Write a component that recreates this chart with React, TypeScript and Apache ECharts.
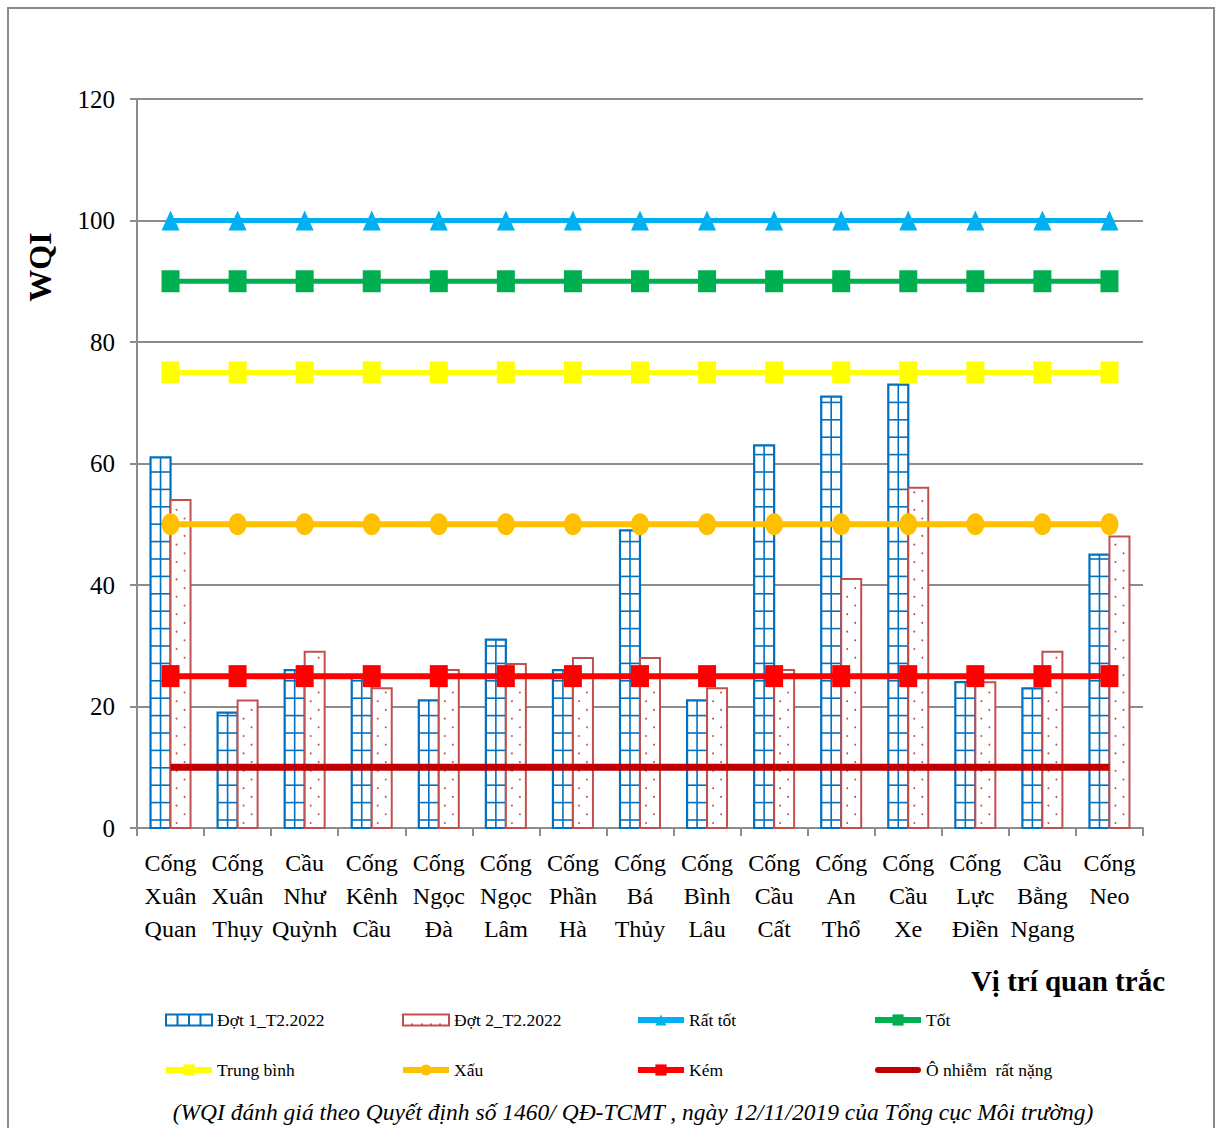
import React, { useEffect, useRef } from 'react';
import * as echarts from 'echarts';

const FONT = "'Liberation Serif', 'Times New Roman', serif";

const categories = [
  'Cống\nXuân\nQuan', 'Cống\nXuân\nThụy', 'Cầu\nNhư\nQuỳnh', 'Cống\nKênh\nCầu',
  'Cống\nNgọc\nĐà', 'Cống\nNgọc\nLâm', 'Cống\nPhần\nHà', 'Cống\nBá\nThủy',
  'Cống\nBình\nLâu', 'Cống\nCầu\nCất', 'Cống\nAn\nThổ', 'Cống\nCầu\nXe',
  'Cống\nLực\nĐiền', 'Cầu\nBằng\nNgang', 'Cống\nNeo',
];

// WQI by monitoring point, two sampling rounds of February 2022
const dot1 = [61, 19, 26, 25, 21, 31, 26, 49, 21, 63, 71, 73, 24, 23, 45];
const dot2 = [54, 21, 29, 23, 26, 27, 28, 28, 23, 26, 41, 56, 24, 29, 48];

// WQI class thresholds (QĐ 1460/QĐ-TCMT)
const ratTot = [100, 100, 100, 100, 100, 100, 100, 100, 100, 100, 100, 100, 100, 100, 100];
const tot = [90, 90, 90, 90, 90, 90, 90, 90, 90, 90, 90, 90, 90, 90, 90];
const trungBinh = [75, 75, 75, 75, 75, 75, 75, 75, 75, 75, 75, 75, 75, 75, 75];
const xau = [50, 50, 50, 50, 50, 50, 50, 50, 50, 50, 50, 50, 50, 50, 50];
const kem = [25, 25, 25, 25, 25, 25, 25, 25, 25, 25, 25, 25, 25, 25, 25];
const oNhiem = [10, 10, 10, 10, 10, 10, 10, 10, 10, 10, 10, 10, 10, 10, 10];

const yTicks = { min: 0, max: 120, interval: 20 };

const BLUE = '#0070C0';
const BROWN = '#C0504D';
const GRID_GRAY = '#8c8c8c';
const BAR_W = 20;

// Blue bar with a grid hatch (one middle column rule, horizontal rules)
function renderGridBar(params: any, api: any) {
  const top = api.coord([api.value(0), api.value(1)]);
  const base = api.coord([api.value(0), 0]);
  const x = top[0] - BAR_W;
  const h = base[1] - top[1];
  const children: any[] = [];
  children.push({
    type: 'rect',
    shape: { x, y: top[1], width: BAR_W, height: h },
    style: { fill: '#fff', stroke: 'none' },
  });
  children.push({
    type: 'line',
    shape: { x1: x + BAR_W / 2, y1: top[1], x2: x + BAR_W / 2, y2: base[1] },
    style: { stroke: BLUE, lineWidth: 1.6 },
  });
  for (let y = base[1] - 8; y > top[1] + 3; y -= 17.4) {
    children.push({
      type: 'line',
      shape: { x1: x, y1: y, x2: x + BAR_W, y2: y },
      style: { stroke: BLUE, lineWidth: 1.6 },
    });
  }
  children.push({
    type: 'rect',
    shape: { x, y: top[1], width: BAR_W, height: h },
    style: { fill: 'none', stroke: BLUE, lineWidth: 2.2 },
  });
  return { type: 'group', children };
}

// Brown outlined bar with a light dot stipple
function renderDotBar(params: any, api: any) {
  const top = api.coord([api.value(0), api.value(1)]);
  const base = api.coord([api.value(0), 0]);
  const x = top[0];
  const h = base[1] - top[1];
  const children: any[] = [];
  children.push({
    type: 'rect',
    shape: { x, y: top[1], width: BAR_W, height: h },
    style: { fill: '#fff', stroke: 'none' },
  });
  let k = 0;
  for (let y = base[1] - 5; y > top[1] + 4; y -= 8.7) {
    const cx = x + (k % 2 === 0 ? 6 : 14);
    children.push({
      type: 'circle',
      shape: { cx, cy: y, r: 0.95 },
      style: { fill: BROWN },
    });
    k++;
  }
  children.push({
    type: 'rect',
    shape: { x, y: top[1], width: BAR_W, height: h },
    style: { fill: 'none', stroke: BROWN, lineWidth: 2 },
  });
  return { type: 'group', children };
}

function levelSeries(name: string, data: number[], color: string, symbol: string, width: number) {
  return {
    name,
    type: 'line',
    data,
    z: 5,
    symbol,
    symbolSize: symbol === 'none' ? 0 : (symbol === 'triangle' ? [18, 20] : [18, 22]),
    showAllSymbol: true,
    lineStyle: { color, width },
    itemStyle: { color },
  };
}

function makeLegend(left: number, names: any[]) {
  return {
    orient: 'vertical',
    left,
    top: 1011,
    padding: 0,
    itemWidth: 46,
    itemHeight: 14,
    itemGap: 32,
    data: names,
    lineStyle: { width: 6 },
    textStyle: { fontFamily: FONT, fontSize: 17.5, color: '#000', lineHeight: 14 },
    selectedMode: false,
  };
}

const legendBar1 = {
  name: 'Đợt 1_T2.2022',
  icon: 'path://M0,0H46V11H0ZM11.5,0V11M23,0V11M34.5,0V11',
  itemStyle: { color: '#fff', borderColor: BLUE, borderWidth: 2 },
};
const legendBar2 = {
  name: 'Đợt 2_T2.2022',
  icon: 'path://M0,0H46V11H0ZM9,9V11M19,9V11M28,9V11M37,9V11',
  itemStyle: { color: '#fff', borderColor: BROWN, borderWidth: 2 },
};
const legendONhiem = {
  name: 'Ô nhiễm  rất nặng',
  icon: 'path://M3,0H43A3,3 0 0 1 43,6H3A3,3 0 0 1 3,0Z',
};

export default function App() {
  const ref = useRef<HTMLDivElement>(null);
  useEffect(() => {
    document.body.style.margin = '0';
    const chart = echarts.init(ref.current!, null, { renderer: 'svg' });
    chart.setOption({
      animation: false,
      backgroundColor: '#fff',
      textStyle: { fontFamily: FONT },
      grid: { left: 137, top: 99, width: 1006, height: 729, containLabel: false },
      xAxis: {
        type: 'category',
        data: categories,
        boundaryGap: true,
        axisLine: { lineStyle: { color: GRID_GRAY, width: 2 } },
        axisTick: { show: true, length: 8, alignWithLabel: false, lineStyle: { color: GRID_GRAY, width: 2 } },
        axisLabel: {
          interval: 0,
          margin: 18,
          fontFamily: FONT,
          fontSize: 24,
          lineHeight: 33,
          color: '#000',
        },
      },
      yAxis: {
        type: 'value',
        min: yTicks.min,
        max: yTicks.max,
        interval: yTicks.interval,
        axisLine: { show: true, lineStyle: { color: GRID_GRAY, width: 2 } },
        axisTick: { show: true, length: 7, lineStyle: { color: GRID_GRAY, width: 2 } },
        axisLabel: { margin: 22, fontFamily: FONT, fontSize: 25, color: '#000' },
        splitLine: { show: true, lineStyle: { color: GRID_GRAY, width: 2 } },
      },
      legend: [
        makeLegend(163, [legendBar1, 'Trung bình']),
        makeLegend(400, [legendBar2, 'Xấu']),
        makeLegend(635, ['Rất tốt', 'Kém']),
        makeLegend(872, ['Tốt', legendONhiem]),
      ],
      series: [
        {
          name: 'Đợt 1_T2.2022',
          type: 'custom',
          renderItem: renderGridBar,
          data: dot1.map((v, i) => [i, v]),
          encode: { x: 0, y: 1 },
          itemStyle: { color: BLUE },
          z: 2,
        },
        {
          name: 'Đợt 2_T2.2022',
          type: 'custom',
          renderItem: renderDotBar,
          data: dot2.map((v, i) => [i, v]),
          encode: { x: 0, y: 1 },
          itemStyle: { color: BROWN },
          z: 2,
        },
        levelSeries('Rất tốt', ratTot, '#00B0F0', 'triangle', 5),
        levelSeries('Tốt', tot, '#00B050', 'rect', 5),
        levelSeries('Trung bình', trungBinh, '#FFFF00', 'rect', 5),
        levelSeries('Xấu', xau, '#FFC000', 'circle', 6),
        levelSeries('Kém', kem, '#FF0000', 'rect', 6),
        levelSeries('Ô nhiễm  rất nặng', oNhiem, '#C00000', 'none', 7),
      ],
      graphic: [
        {
          type: 'rect',
          shape: { x: 8, y: 8, width: 1206, height: 1140 },
          style: { fill: 'none', stroke: '#8a8a8a', lineWidth: 2 },
          silent: true,
        },
        {
          type: 'text',
          x: 40,
          y: 267,
          rotation: Math.PI / 2,
          style: {
            text: 'WQI',
            align: 'center',
            verticalAlign: 'middle',
            fontFamily: FONT,
            fontWeight: 'bold',
            fontSize: 32,
            fill: '#000',
          },
        },
        {
          type: 'text',
          x: 1165,
          y: 981,
          style: {
            text: 'Vị trí quan trắc',
            align: 'right',
            verticalAlign: 'middle',
            fontFamily: FONT,
            fontWeight: 'bold',
            fontSize: 29,
            fill: '#000',
          },
        },
        {
          type: 'text',
          x: 633,
          y: 1112,
          style: {
            text: '(WQI đánh giá theo Quyết định số 1460/ QĐ-TCMT , ngày 12/11/2019 của Tổng cục Môi trường)',
            align: 'center',
            verticalAlign: 'middle',
            fontFamily: FONT,
            fontStyle: 'italic',
            fontSize: 23.5,
            fill: '#000',
          },
        },
      ],
    });
    return () => chart.dispose();
  }, []);
  return <div ref={ref} style={{ width: 1216, height: 1128 }} />;
}
